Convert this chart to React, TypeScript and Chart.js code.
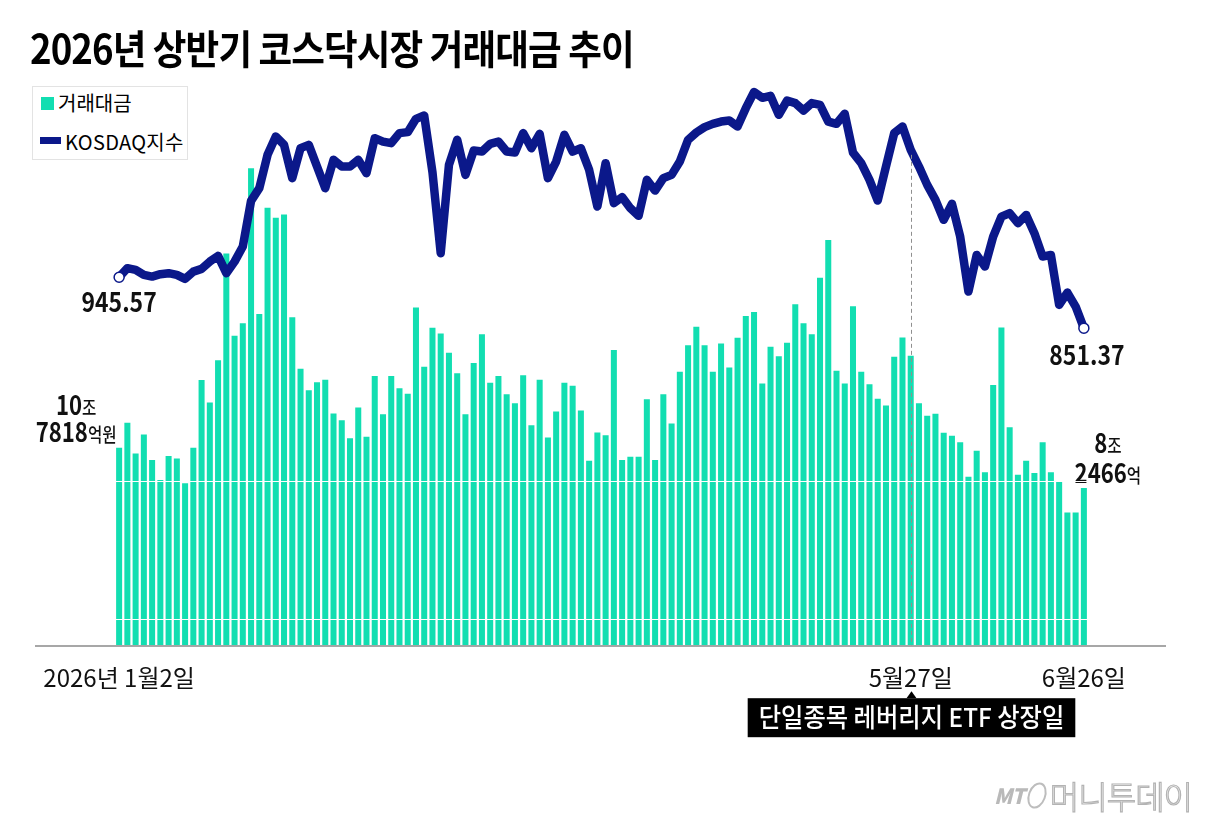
import React, { useEffect, useRef } from "react";
import { Chart, registerables } from "chart.js";

Chart.register(...registerables);

// ---- trading days (KRX, 2026 H1) ----
const janDays = [2, 5, 6, 7, 8, 9, 12, 13, 14, 15, 16, 19, 20, 21, 22, 23, 26, 27, 28, 29, 30];
const febDays = [2, 3, 4, 5, 6, 9, 10, 11, 12, 13, 19, 20, 23, 24, 25, 26, 27];
const marDays = [3, 4, 5, 6, 9, 10, 11, 12, 13, 16, 17, 18, 19, 20, 23, 24, 25, 26, 27, 30, 31];
const aprDays = [1, 2, 3, 6, 7, 8, 9, 10, 13, 14, 15, 16, 17, 20, 21, 22, 23, 24, 27, 28, 29, 30];
const mayDays = [4, 6, 7, 8, 11, 12, 13, 14, 15, 18, 19, 20, 21, 22, 26, 27, 28, 29];
const junDays = [1, 2, 4, 5, 8, 9, 10, 11, 12, 15, 16, 17, 18, 19, 22, 23, 24, 25, 26];

// ---- 거래대금 (억원) ----
const tradingValue = [
  107818, 121500, 104700, 115100, 101100, 90200, 103300, 102000, 88400, 107800,
  144800, 132600, 155700, 214000, 169000, 175800, 260500, 180900, 238900, 233500,
  235300, 179100, 151000, 139300, 143700, 145000, 126600, 122900, 113100, 129900,
  113800, 147000, 126100, 147100, 140300, 137300, 184500, 152100, 173400, 170200,
  159700, 148500, 126200, 154200, 169900, 143300, 147100, 137100, 132100, 147500,
  120200, 145000, 113500, 127700, 143300, 141700, 128200, 100700, 116200, 114700,
  161200, 101100, 102900, 102900, 134300, 101100, 137100, 121100, 149300, 163900,
  173900, 163900, 149300, 164800, 151700, 167900, 179800, 182000, 143000, 163000,
  157900, 165200, 186300, 175800, 169900, 200700, 221300, 149900, 143000, 185200,
  149300, 142600, 134600, 131000, 157500, 168100, 158100, 132200, 125300, 126400,
  116000, 114400, 110800, 92000, 106200, 94500, 142100, 173600, 119000, 93100,
  100700, 94100, 110800, 94500, 89400, 72500, 72500, 85900,
];

// ---- KOSDAQ 지수 ----
const kosdaq = [
  945.57, 962.2, 959.1, 949.8, 946.7, 951.1, 953.0, 949.8, 942.4, 955.9,
  960.9, 974.4, 985.0, 953.0, 974.4, 1002.2, 1086.7, 1110.2, 1171.8, 1205.7,
  1190.3, 1128.7, 1184.2, 1190.3, 1150.2, 1110.2, 1162.6, 1150.2, 1150.2, 1162.6,
  1138.0, 1202.7, 1196.4, 1193.5, 1212.0, 1213.8, 1238.4, 1244.5, 1140.0, 990.0,
  1153.3, 1199.6, 1134.8, 1179.8, 1177.9, 1192.2, 1196.4, 1177.9, 1176.1, 1212.0,
  1184.2, 1210.7, 1128.7, 1159.4, 1208.8, 1177.9, 1184.2, 1144.1, 1076.2, 1156.5,
  1082.5, 1093.6, 1073.2, 1059.0, 1125.6, 1105.8, 1128.7, 1134.8, 1159.4, 1199.6,
  1213.1, 1223.1, 1229.2, 1233.4, 1235.3, 1224.2, 1258.2, 1288.0, 1277.3, 1281.0,
  1245.8, 1272.3, 1267.5, 1253.8, 1267.5, 1264.3, 1233.4, 1229.2, 1247.7, 1176.1,
  1156.5, 1125.6, 1087.3, 1150.2, 1212.0, 1224.2, 1181.1, 1150.2, 1116.3, 1088.6,
  1051.6, 1081.2, 1020.7, 918.9, 986.8, 965.2, 1020.7, 1057.7, 1064.0, 1045.5,
  1060.8, 1027.0, 983.7, 986.8, 894.3, 917.1, 891.2, 851.37,
];

// ---- tick labels / annotations ----
const tickLabels: Record<string, string> = {
  "1/2": "2026년 1월2일",
  "5/27": "5월27일",
  "6/26": "6월26일",
};
const eventDate = "5/27";
const eventText = "단일종목 레버리지 ETF 상장일";
const firstBarLabel = [["10", "조"], ["7818", "억원"]];
const lastBarLabel = [["8", "조"], ["2466", "억"]];
const seamValues = [14200, 89600];

const monthDays = [janDays, febDays, marDays, aprDays, mayDays, junDays];
const labels: string[] = [];
monthDays.forEach((days, m) => days.forEach((d) => labels.push(`${m + 1}/${d}`)));

const TEAL = "#12deb1";
const NAVY = "#0b188a";
const FONT = '"Noto Sans CJK KR", "Noto Sans", sans-serif';

function drawMixed(
  ctx: CanvasRenderingContext2D,
  parts: [string, string][],
  cx: number,
  cy: number,
  sx: number
) {
  ctx.save();
  ctx.textBaseline = "alphabetic";
  let w = 0;
  parts.forEach(([t, f]) => {
    ctx.font = f;
    w += ctx.measureText(t).width;
  });
  ctx.translate(cx, cy);
  ctx.scale(sx, 1);
  let x = -w / 2;
  parts.forEach(([t, f]) => {
    ctx.font = f;
    ctx.fillText(t, x, 0);
    x += ctx.measureText(t).width;
  });
  ctx.restore();
}

const annotationPlugin = {
  id: "annotations",
  afterDatasetsDraw(chart: any) {
    const { ctx, chartArea, scales } = chart;
    const xs = scales.x;
    const ys = scales.y;
    const y2 = scales.y2;
    const n = kosdaq.length;
    ctx.save();

    // baseline axis line
    ctx.strokeStyle = "#8a8a8a";
    ctx.lineWidth = 1.5;
    ctx.beginPath();
    ctx.moveTo(chartArea.left - 80, chartArea.bottom + 0.75);
    ctx.lineTo(chartArea.right + 78, chartArea.bottom + 0.75);
    ctx.stroke();

    // event dashed line
    const ei = labels.indexOf(eventDate);
    const ex = Math.round(xs.getPixelForValue(ei)) + 0.5;
    const ey = y2.getPixelForValue(kosdaq[ei]);
    ctx.setLineDash([4, 3]);
    ctx.strokeStyle = "#8f8f8f";
    ctx.lineWidth = 1;
    ctx.beginPath();
    ctx.moveTo(ex, ey + 5);
    ctx.lineTo(ex, chartArea.bottom);
    ctx.stroke();
    ctx.setLineDash([]);

    ctx.fillStyle = "#111";
    const bold = `bold 27px ${FONT}`;
    const small = `500 19px ${FONT}`;

    // index end labels
    const fx = xs.getPixelForValue(0);
    const fy = y2.getPixelForValue(kosdaq[0]);
    drawMixed(ctx, [[kosdaq[0].toFixed(2), bold]], fx, fy + 35, 0.85);
    const lx = xs.getPixelForValue(n - 1);
    const ly = y2.getPixelForValue(kosdaq[n - 1]);
    drawMixed(ctx, [[kosdaq[n - 1].toFixed(2), bold]], lx + 3, ly + 37, 0.85);

    // bar value labels
    const b1 = ys.getPixelForValue(tradingValue[0]);
    drawMixed(ctx, [[firstBarLabel[0][0], bold], [firstBarLabel[0][1], small]], fx - 43, b1 - 33, 0.82);
    drawMixed(ctx, [[firstBarLabel[1][0], bold], [firstBarLabel[1][1], small]], fx - 43, b1 - 6, 0.82);
    const bl = ys.getPixelForValue(tradingValue[n - 1]);
    drawMixed(ctx, [[lastBarLabel[0][0], bold], [lastBarLabel[0][1], small]], lx + 24, bl - 35, 0.82);
    drawMixed(ctx, [[lastBarLabel[1][0], bold], [lastBarLabel[1][1], small]], lx + 24, bl - 5, 0.82);

    // event box
    const boxFont = `500 26px ${FONT}`;
    ctx.font = boxFont;
    const sx = 0.935;
    const tw = ctx.measureText(eventText).width * sx;
    const bw = tw + 22;
    const top = chartArea.bottom + 53;
    const bh = 39;
    ctx.fillStyle = "#000";
    ctx.fillRect(ex - bw / 2, top, bw, bh);
    ctx.beginPath();
    ctx.moveTo(ex - 5, top);
    ctx.lineTo(ex, top - 7);
    ctx.lineTo(ex + 5, top);
    ctx.closePath();
    ctx.fill();
    ctx.fillStyle = "#fff";
    drawMixed(ctx, [[eventText, boxFont]], ex, top + 29, sx);

    ctx.restore();
  },
};

export default function App() {
  const ref = useRef<HTMLCanvasElement>(null);

  useEffect(() => {
    document.body.style.margin = "0";
    const chart = new Chart(ref.current as HTMLCanvasElement, {
      type: "bar",
      data: {
        labels,
        datasets: [
          {
            type: "line",
            label: "KOSDAQ지수",
            data: kosdaq,
            yAxisID: "y2",
            borderColor: NAVY,
            borderWidth: 8.5,
            tension: 0,
            borderJoinStyle: "round",
            borderCapStyle: "round",
            pointRadius: (c: any) => (c.dataIndex === 0 || c.dataIndex === kosdaq.length - 1 ? 5 : 0),
            pointBackgroundColor: "#fff",
            pointBorderColor: NAVY,
            pointBorderWidth: 1.5,
            order: 0,
          } as any,
          {
            type: "bar",
            label: "거래대금",
            data: tradingValue,
            yAxisID: "y",
            backgroundColor: TEAL,
            categoryPercentage: 1,
            barPercentage: 0.73,
            order: 1,
          },
        ],
      },
      options: {
        responsive: false,
        animation: false,
        devicePixelRatio: 1,
        layout: { padding: { left: 115, right: 117, top: 85, bottom: 114 } },
        plugins: {
          legend: { display: false },
          tooltip: { enabled: false },
          title: { display: false },
        },
        scales: {
          x: {
            type: "category",
            offset: true,
            grid: { display: false, drawTicks: false, tickLength: 0 },
            border: { display: false },
            ticks: {
              autoSkip: false,
              maxRotation: 0,
              minRotation: 0,
              padding: 18,
              color: "#111",
              font: { family: FONT, size: 24 },
              callback: (_v: any, i: number) => tickLabels[labels[i]] ?? "",
            },
          },
          y: {
            min: 0,
            max: 306000,
            position: "left",
            ticks: { display: false },
            border: { display: false },
            grid: { color: "#ffffff", lineWidth: 1, z: 1, drawTicks: false, tickLength: 0 },
            afterBuildTicks: (s: any) => {
              s.ticks = seamValues.map((v) => ({ value: v }));
            },
          },
          y2: {
            min: 265,
            max: 1301,
            display: false,
          },
        },
      } as any,
      plugins: [annotationPlugin],
    });
    return () => chart.destroy();
  }, []);

  return (
    <div
      style={{
        position: "relative",
        width: 1205,
        height: 824,
        background: "#fff",
        overflow: "hidden",
        fontFamily: FONT,
        color: "#000",
      }}
    >
      <canvas
        ref={ref}
        width={1205}
        height={824}
        style={{ position: "absolute", left: 0, top: 0, width: 1205, height: 824 }}
      />
      <div
        style={{
          position: "absolute",
          left: 30,
          top: 24,
          fontSize: 40,
          fontWeight: 700,
          lineHeight: "46px",
          letterSpacing: -1,
          whiteSpace: "nowrap",
          transform: "scaleX(0.915)",
          transformOrigin: "left top",
        }}
      >
        2026년 상반기 코스닥시장 거래대금 추이
      </div>
      <div
        style={{
          position: "absolute",
          left: 32,
          top: 86,
          width: 156,
          height: 74,
          boxSizing: "border-box",
          border: "1px solid #e3e3e3",
          background: "#fff",
        }}
      >
        <div style={{ position: "absolute", left: 8, top: 10, width: 13, height: 13, background: TEAL }} />
        <div style={{ position: "absolute", left: 25, top: 3, fontSize: 20, lineHeight: "26px", whiteSpace: "nowrap" }}>
          거래대금
        </div>
        <div style={{ position: "absolute", left: 7, top: 50, width: 21, height: 7, background: NAVY }} />
        <div style={{ position: "absolute", left: 32, top: 42, fontSize: 20, lineHeight: "26px", whiteSpace: "nowrap", letterSpacing: 0.3 }}>
          KOSDAQ지수
        </div>
      </div>
      <div
        style={{
          position: "absolute",
          left: 994,
          top: 772,
          whiteSpace: "nowrap",
          color: "#b9b9b9",
          display: "flex",
          alignItems: "center",
          gap: 4,
        }}
      >
        <span style={{ fontStyle: "italic", fontWeight: 800, fontSize: 21, letterSpacing: -1 }}>MT</span>
        <span
          style={{
            display: "inline-block",
            width: 14,
            height: 23,
            border: "2px solid #bdbdbd",
            borderRadius: "50%",
            transform: "rotate(20deg)",
          }}
        />
        <span
          style={{
            fontSize: 32,
            fontWeight: 300,
            color: "#fff",
            WebkitTextStroke: "1.2px #b3b3b3",
            letterSpacing: -1,
          }}
        >
          머니투데이
        </span>
      </div>
    </div>
  );
}
